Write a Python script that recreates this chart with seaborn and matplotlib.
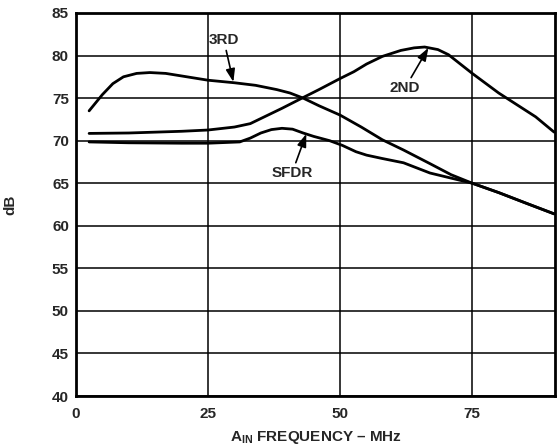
import matplotlib
matplotlib.use("Agg")
import matplotlib.pyplot as plt
import seaborn as sns
import pandas as pd

# values
freq_3rd = [2.5, 5, 7, 9, 11.5, 14, 17, 20, 25, 30, 34, 38, 40.5, 43, 46, 50, 54, 58, 62, 67, 71, 75, 80, 85, 90.5]
db_3rd = [73.5, 75.4, 76.7, 77.5, 77.9, 78.0, 77.9, 77.6, 77.1, 76.8, 76.5, 76.0, 75.6, 75.0, 74.1, 73.0, 71.6, 70.1, 68.9, 67.3, 66.0, 65.0, 63.9, 62.7, 61.4]

freq_2nd = [2.5, 10, 15, 20, 25, 30, 33, 36, 39, 42.8, 46, 50, 52.6, 55, 58, 61.5, 64, 66, 68.5, 70.5, 75, 80, 83, 87, 90.5]
db_2nd = [70.85, 70.9, 71.0, 71.1, 71.25, 71.6, 72.0, 72.9, 73.8, 75.0, 76.0, 77.3, 78.1, 79.0, 79.9, 80.6, 80.9, 81.0, 80.7, 80.1, 77.9, 75.6, 74.4, 72.8, 71.0]

freq_sfdr = [2.5, 10, 20, 25, 31, 33, 35, 37, 39, 41, 43, 45, 48, 50.4, 53, 55, 58, 62, 67, 71, 75, 80, 85, 90.5]
db_sfdr = [69.85, 69.75, 69.7, 69.7, 69.85, 70.3, 70.9, 71.3, 71.45, 71.35, 70.9, 70.5, 70.0, 69.45, 68.7, 68.3, 67.9, 67.4, 66.2, 65.6, 65.0, 63.9, 62.7, 61.4]

x_ticks = [0, 25, 50, 75]
y_ticks = [40, 45, 50, 55, 60, 65, 70, 75, 80, 85]

df = pd.concat([
    pd.DataFrame({"freq": freq_3rd, "db": db_3rd, "series": "3RD"}),
    pd.DataFrame({"freq": freq_2nd, "db": db_2nd, "series": "2ND"}),
    pd.DataFrame({"freq": freq_sfdr, "db": db_sfdr, "series": "SFDR"}),
])

sns.set_style("white")
plt.rcParams["font.family"] = ["Liberation Sans", "DejaVu Sans"]
plt.rcParams["font.weight"] = "bold"
plt.rcParams["mathtext.fontset"] = "custom"
plt.rcParams["mathtext.rm"] = "Liberation Sans:bold"

fs = 11

fig = plt.figure(figsize=(5.58, 4.47), dpi=100)
ax = fig.add_axes([0.136, 0.114, 0.859, 0.857])

sns.lineplot(data=df, x="freq", y="db", hue="series", palette=["black"] * 3,
             linewidth=2.0, legend=False, ax=ax, sort=False)

ax.set_xlim(0, 90.7)
ax.set_ylim(40, 85)
ax.set_xticks(x_ticks)
ax.set_yticks(y_ticks)
ax.set_xticklabels([str(t) for t in x_ticks], fontsize=fs, fontweight="bold")
ax.set_yticklabels([str(t) for t in y_ticks], fontsize=fs, fontweight="bold")
ax.tick_params(axis="x", length=0, pad=8)
ax.tick_params(axis="y", length=0, pad=5)
ax.grid(True, color="black", linewidth=1.1)
for s in ax.spines.values():
    s.set_color("black")
    s.set_linewidth(2.0)

ax.set_xlabel("A$_{\\mathrm{IN}}$ FREQUENCY \u2013 MHz", fontsize=fs, fontweight="bold", labelpad=6)
ax.set_ylabel("dB", fontsize=fs, fontweight="bold", labelpad=25)

arrow = dict(arrowstyle="-|>,head_length=0.7,head_width=0.25", color="black", lw=1.2, shrinkA=0, shrinkB=0)
ax.annotate("3RD", xy=(29.8, 76.9), xytext=(28.0, 81.8), ha="center", va="center",
            fontsize=fs, fontweight="bold", arrowprops=arrow)
ax.annotate("2ND", xy=(66.7, 80.9), xytext=(62.3, 76.2), ha="center", va="center",
            fontsize=fs, fontweight="bold", arrowprops=arrow)
ax.annotate("SFDR", xy=(43.6, 70.8), xytext=(40.9, 66.2), ha="center", va="center",
            fontsize=fs, fontweight="bold", arrowprops=arrow)

fig.savefig("out.png", dpi=100)
